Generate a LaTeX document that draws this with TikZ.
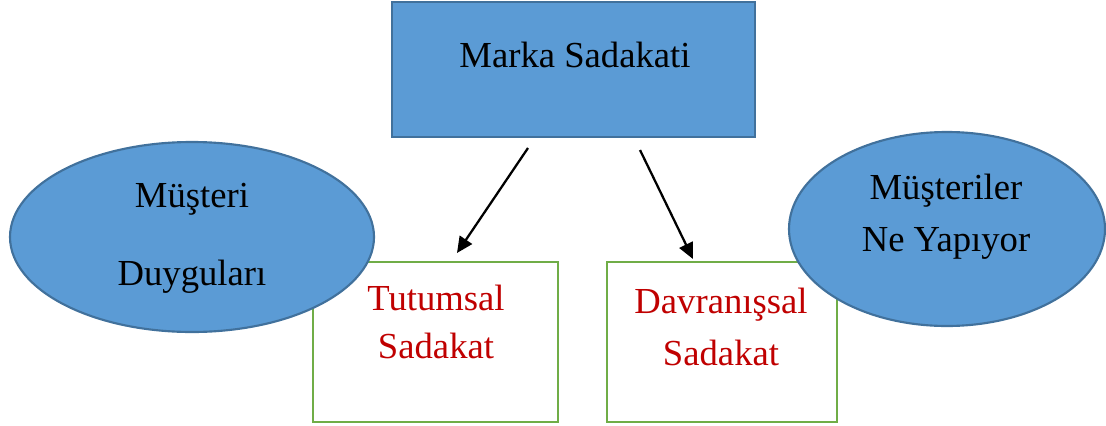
\documentclass[tikz,border=0pt]{standalone}
\usepackage{fontspec}
\setmainfont{Liberation Serif}
\usepackage{xcolor}
\usepackage{tikz}
\usetikzlibrary{arrows.meta, shapes.geometric}

\definecolor{boxblue}{HTML}{5B9BD5}
\definecolor{edgeblue}{HTML}{41719C}
\definecolor{boxgreen}{HTML}{70AD47}
\definecolor{textred}{HTML}{C00000}

\begin{document}
\begin{tikzpicture}[x=0.75pt, y=-0.75pt,
    bluebox/.style={draw=edgeblue, fill=boxblue, line width=1.6pt, rectangle, inner sep=0pt},
    ovalbox/.style={draw=edgeblue, fill=boxblue, line width=1.6pt, ellipse, inner sep=0pt},
    greenbox/.style={draw=boxgreen, fill=white, line width=2pt, rectangle, inner sep=0pt},
    bigtext/.style={align=center, font=\fontsize{27.5}{#1}\selectfont},
    arr/.style={-{Triangle[length=12pt, width=11pt]}, line width=1.7pt}]
            % keep the page size
            \useasboundingbox (0,0) rectangle (1106,425);

            % green boxes (behind the ovals)
            \node[greenbox, minimum width=183.75pt, minimum height=120pt] (tutum) at (435.5,342) {};
            \node[greenbox, minimum width=172.5pt, minimum height=120pt] (davran) at (722,342) {};

            % top box
            \node[bluebox, minimum width=272.25pt, minimum height=101.25pt] (marka) at (573.5,69.5) {};

            % ovals
            \node[ovalbox, minimum width=273pt, minimum height=142.5pt] (duygu) at (192,237) {};
            \node[ovalbox, minimum width=237pt, minimum height=145.5pt] (yapiyor) at (947,229) {};

            % labels
            \node[bigtext=32pt] (markatxt) at (575,55) {Marka Sadakati};
            \node[bigtext=58.5pt] (duygutxt) at (192,238) {Müşteri\\Duyguları};
            \node[bigtext=39pt] (yapiyortxt) at (946,217) {Müşteriler\\Ne Yapıyor};
            \node[bigtext=36pt, text=textred] (tutumtxt) at (436,322) {Tutumsal\\Sadakat};
            \node[bigtext=39pt, text=textred] (davrantxt) at (721,327) {Davranışsal\\Sadakat};

            % arrows
            \coordinate (s1) at (528,148);
            \coordinate (e1) at (457,253);
            \coordinate (s2) at (640,150);
            \coordinate (e2) at (693,259);
            \draw[arr] (s1) -- (e1);
            \draw[arr] (s2) -- (e2);
\end{tikzpicture}
\end{document}
